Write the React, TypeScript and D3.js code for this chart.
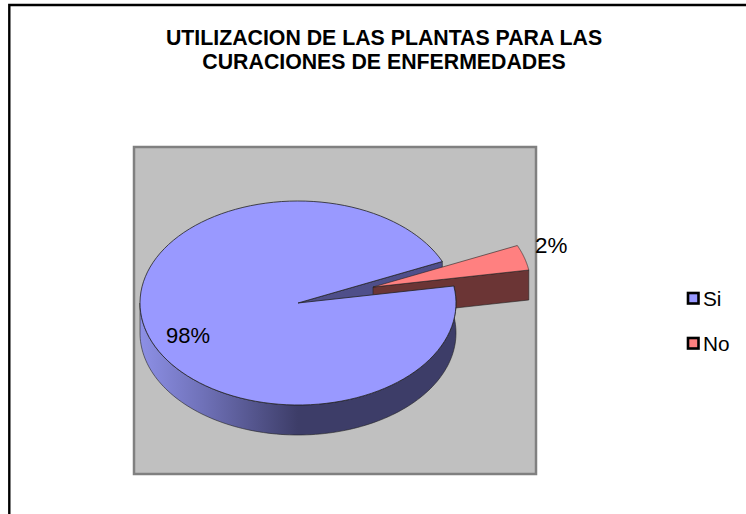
import React from "react";
import * as d3 from "d3";

const categories = ["Si", "No"];
const shares = [98, 2];
const shareLabels = ["98%", "2%"];
const titleLines = ["UTILIZACION DE LAS PLANTAS PARA LAS", "CURACIONES DE ENFERMEDADES"];
const topColors = ["#9999ff", "#ff8080"];

const W = 746, H = 514;
const cx = 298, cy = 303, rx = 158, ry = 102, depth = 30;
const explode = { x: 75, y: -16 };
const rad = Math.PI / 180;

// Cumulative share -> drawn angle (Excel's 3D perspective widens the small slice on screen).
const angleOf = d3.scaleLinear().domain([0, 98, 100]).range([80.4 * rad, 426 * rad, 440.4 * rad]);

const pt = (t: number, ox = 0, oy = 0, dz = 0): [number, number] => [
  cx + ox + rx * Math.sin(t),
  cy + oy + dz - ry * Math.cos(t),
];
const rim = (a: number, b: number, ox = 0, oy = 0, dz = 0) =>
  d3.range(0, 121).map((i) => pt(a + ((b - a) * i) / 120, ox, oy, dz));
const line = d3.line<[number, number]>();

export default function App() {
  const pie = d3.pie<number>().sort(null).value((d) => d)(shares);
  const a0 = angleOf(pie[0].startAngle / (2 * Math.PI) * 100);
  const a1 = angleOf(pie[0].endAngle / (2 * Math.PI) * 100);
  const b0 = angleOf(pie[1].startAngle / (2 * Math.PI) * 100);
  const b1 = angleOf(pie[1].endAngle / (2 * Math.PI) * 100);

  const center: [number, number] = [cx, cy];
  const siTop = [center, ...rim(a0, a1)];
  const wallFront = [...rim(a0, Math.PI * 1.5), ...rim(a0, Math.PI * 1.5, 0, 0, depth).reverse()];
  const notchWall: [number, number][] = [center, pt(a1), pt(a1, 0, 0, depth), [cx, cy + depth]];

  const e = explode;
  const apex: [number, number] = [cx + e.x, cy + e.y];
  const noTop = [apex, ...rim(b0, b1, e.x, e.y)];
  const noWall: [number, number][] = [
    apex,
    pt(b1, e.x, e.y),
    pt(b1, e.x, e.y, depth),
    [apex[0], apex[1] + depth],
  ];

  const outline = "#222";
  return (
    <svg width={W} height={H} style={{ position: "absolute", left: 0, top: 0, background: "#fff" }}>
      <defs>
        <linearGradient id="wall" gradientUnits="userSpaceOnUse" x1={cx - rx} x2={cx + rx} y1={0} y2={0}>
          <stop offset="0" stopColor="#8d90e6" />
          <stop offset="0.2" stopColor="#6f71b8" />
          <stop offset="0.5" stopColor="#3d3d68" />
          <stop offset="1" stopColor="#3d3d68" />
        </linearGradient>
      </defs>
      <path d="M9.3,514V5H746" fill="none" stroke="#000" strokeWidth={2.4} />
      <rect x={134} y={147} width={402} height={327} fill="#c0c0c0" stroke="#808080" strokeWidth={2.5} />

      <path d={line(notchWall)! + "Z"} fill="#4f4f8a" stroke={outline} strokeWidth={0.6} />
      <path d={line(noWall)! + "Z"} fill="#6b3535" stroke={outline} strokeWidth={0.6} />
      <path d={line(wallFront)! + "Z"} fill="url(#wall)" stroke="#222" strokeWidth={0.6} />
      <path d={line(siTop)! + "Z"} fill={topColors[0]} stroke={outline} strokeWidth={0.8} />
      <path d={line(noTop)! + "Z"} fill={topColors[1]} stroke={outline} strokeWidth={0.6} />

      <g fontFamily="Liberation Sans, Arial, sans-serif" fill="#000">
        {titleLines.map((t, i) => (
          <text key={t} x={384} y={44.5 + i * 24} textAnchor="middle" fontSize={21.3} fontWeight="bold">
            {t}
          </text>
        ))}
        <text x={166} y={343} fontSize={22}>{shareLabels[0]}</text>
        <text x={535} y={253} fontSize={22.4}>{shareLabels[1]}</text>
        {categories.map((c, i) => (
          <g key={c}>
            <rect x={688} y={293} width={10.5} height={10.5} transform={`translate(0,${i * 45})`} fill={topColors[i]} stroke="#000" strokeWidth={2.6} />
            <text x={703} y={306 + i * 45} fontSize={20.8}>{c}</text>
          </g>
        ))}
      </g>
    </svg>
  );
}
